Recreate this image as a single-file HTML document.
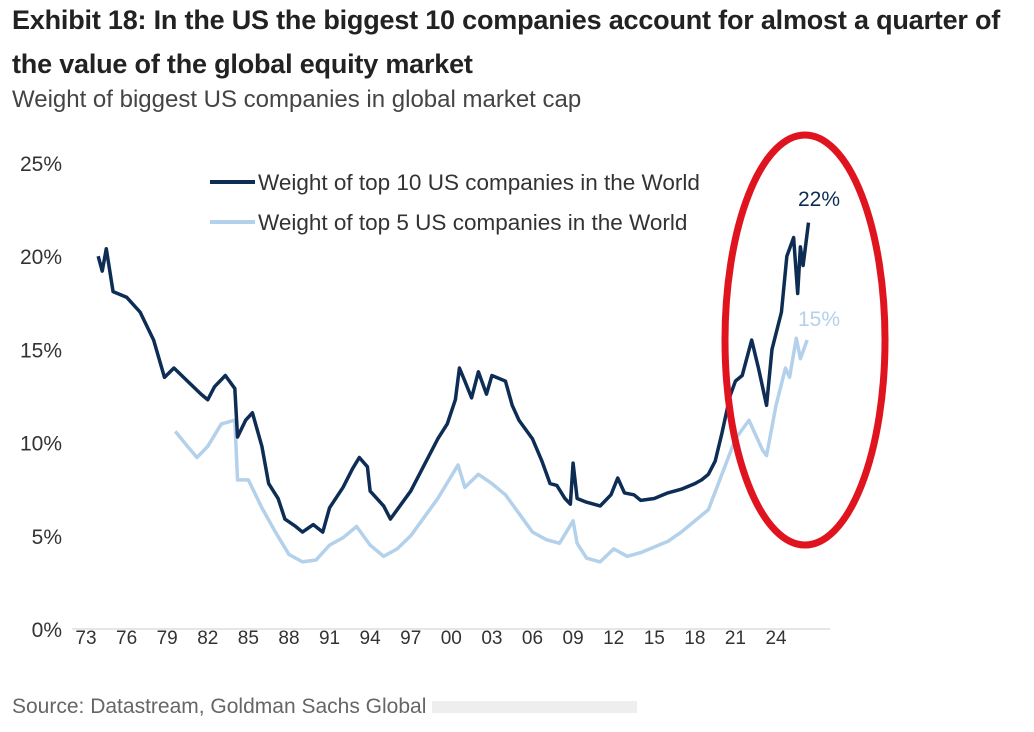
<!DOCTYPE html>
<html><head><meta charset="utf-8"><style>
body{margin:0;background:#fff;width:1034px;height:732px;overflow:hidden;font-family:"Liberation Sans",sans-serif}
.t{position:absolute;left:12px;font-family:"Liberation Sans",sans-serif;font-weight:bold;font-size:27px;color:#222;white-space:nowrap;letter-spacing:-0.2px}
</style></head><body>
<div class="t" style="top:5px">Exhibit 18: In the US the biggest 10 companies account for almost a quarter of</div>
<div class="t" style="top:49px">the value of the global equity market</div>
<div style="position:absolute;left:12px;top:86px;font-size:24px;color:#444">Weight of biggest US companies in global market cap</div>
<div style="position:absolute;left:12px;top:695px;font-size:21px;color:#666">Source: Datastream, Goldman Sachs Global <span style="display:inline-block;width:205px;height:12px;background:#eee"></span></div>
<svg id="c" width="1034" height="732" style="position:absolute;left:0;top:0"></svg>
<script>
const yTicks=[0,5,10,15,20,25];
const xTickLabels=["73","76","79","82","85","88","91","94","97","00","03","06","09","12","15","18","21","24"];
const top10Years=[1973.9,1974.2,1974.5,1975,1976,1977,1978,1978.8,1979.5,1980.5,1981.5,1982,1982.5,1983.3,1984,1984.2,1984.8,1985.3,1986,1986.5,1987.2,1987.7,1988.5,1989,1989.8,1990.5,1991,1992,1992.7,1993.2,1993.8,1994,1995,1995.5,1996,1997,1998,1999,1999.7,2000.3,2000.6,2001,2001.5,2002,2002.6,2003,2004,2004.5,2005,2006,2006.7,2007.3,2007.8,2008.4,2008.8,2009,2009.3,2010,2011,2011.8,2012.3,2012.8,2013.5,2014,2015,2016,2017,2018,2018.5,2019,2019.5,2020,2020.6,2021,2021.5,2022.2,2022.7,2023.3,2023.7,2024.4,2024.8,2025.3,2025.6,2025.8,2026,2026.4];
const top10Values=[20.0,19.2,20.4,18.1,17.8,17.0,15.5,13.5,14.0,13.3,12.6,12.3,13.0,13.6,12.9,10.3,11.2,11.6,9.8,7.8,7.0,5.9,5.5,5.2,5.6,5.2,6.5,7.6,8.6,9.2,8.7,7.4,6.6,5.9,6.4,7.4,8.8,10.2,11.0,12.3,14.0,13.3,12.4,13.8,12.6,13.6,13.3,12.0,11.2,10.2,9.0,7.8,7.7,7.0,6.7,8.9,7.0,6.8,6.6,7.2,8.1,7.3,7.2,6.9,7.0,7.3,7.5,7.8,8.0,8.3,9.0,10.5,12.5,13.3,13.6,15.5,14.0,12.0,15.0,17.0,20.0,21.0,18.0,20.5,19.5,21.8];
const top5Years=[1979.6,1980.5,1981.2,1982,1983,1984,1984.2,1985,1986,1987,1988,1989,1990,1991,1992,1993,1994,1995,1996,1997,1998,1999,2000.5,2001,2002,2003,2004,2005,2006,2007,2008,2009,2009.3,2010,2011,2012,2013,2014,2015,2016,2017,2018,2019,2020,2021,2022,2023,2023.3,2024,2024.7,2025,2025.5,2025.8,2026.3];
const top5Values=[10.6,9.8,9.2,9.8,11.0,11.2,8.0,8.0,6.5,5.2,4.0,3.6,3.7,4.5,4.9,5.5,4.5,3.9,4.3,5.0,6.0,7.0,8.8,7.6,8.3,7.8,7.2,6.2,5.2,4.8,4.6,5.8,4.6,3.8,3.6,4.3,3.9,4.1,4.4,4.7,5.2,5.8,6.4,8.3,10.2,11.2,9.6,9.3,12.0,14.0,13.5,15.6,14.5,15.5];
const NS="http://www.w3.org/2000/svg",svg=document.getElementById('c');
const X=yr=>86+(yr-1973)*13.53, Y=v=>629-v*18.64;
function mk(t,a,txt){const e=document.createElementNS(NS,t);for(const k in a)e.setAttribute(k,a[k]);if(txt!==undefined)e.textContent=txt;svg.appendChild(e);return e;}
let ax=mk('line',{x1:72,y1:629,x2:830,y2:629,stroke:'#ccc','stroke-width':1});


yTicks.forEach(v=>{const t=mk('text',{x:62,y:Y(v)+8,'text-anchor':'end','font-size':21,fill:'#333','font-family':'Liberation Sans'},v+'%');

});
xTickLabels.forEach((l,i)=>{const t=mk('text',{x:X(1973+3*i),y:644,'text-anchor':'middle','font-size':19,fill:'#333','font-family':'Liberation Sans'},l);

});
function line(ys,vs,col,name){const p=mk('polyline',{points:ys.map((y,i)=>X(y)+','+Y(vs[i])).join(' '),fill:'none',stroke:col,'stroke-width':3.5,'stroke-linejoin':'round'});

}
line(top5Years,top5Values,'#b3d1ea','series-top5');
line(top10Years,top10Values,'#0d2d55','series-top10');
[[182,'#0d2d55','Weight of top 10 US companies in the World','legend-entry-top10'],[222,'#b3d1ea','Weight of top 5 US companies in the World','legend-entry-top5']].forEach(d=>{
const l=mk('line',{x1:210,y1:d[0],x2:255,y2:d[0],stroke:d[1],'stroke-width':4});


const t=mk('text',{x:258,y:d[0]+8,'font-size':22.5,fill:'#333','font-family':'Liberation Sans'},d[2]);

});
const a1=mk('text',{x:819,y:206,'text-anchor':'middle','font-size':21,fill:'#0d2d55','font-family':'Liberation Sans'},'22%');


const a2=mk('text',{x:819,y:326,'text-anchor':'middle','font-size':21,fill:'#b3d1ea','font-family':'Liberation Sans'},'15%');


const el=mk('ellipse',{cx:805,cy:340,rx:80,ry:205,fill:'none',stroke:'#e0141e','stroke-width':7});


</script>
</body></html>
